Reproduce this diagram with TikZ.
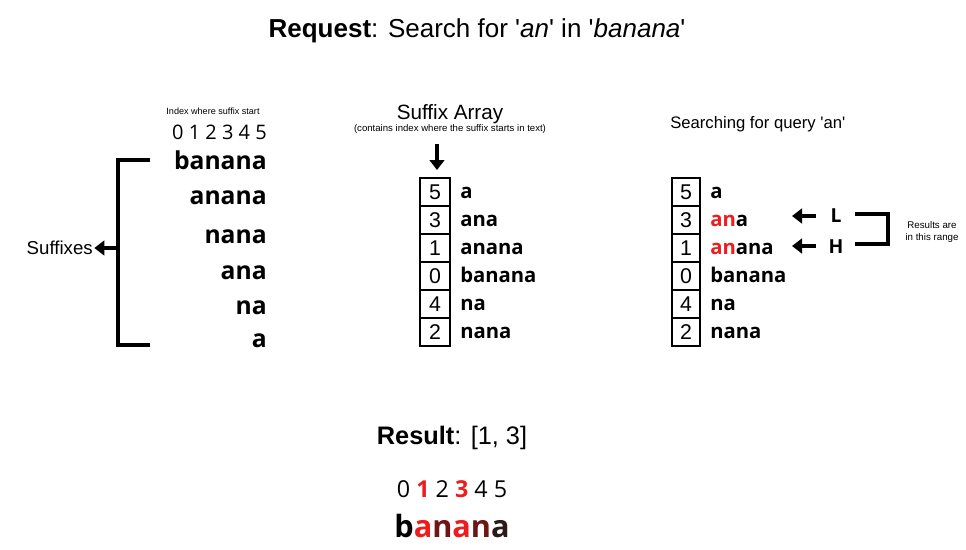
\documentclass[tikz,border=0pt]{standalone}
\usepackage{fontspec}
\setmainfont{Liberation Sans}
\newfontfamily\arial{Liberation Sans}
\newfontfamily\hum{Open Sans}
\usetikzlibrary{arrows.meta}
\definecolor{hl}{HTML}{EE1C1C}
\definecolor{dk}{HTML}{6E1616}
\definecolor{dk2}{HTML}{2A1A1A}
\begin{document}
\begin{tikzpicture}[x=0.75pt,y=-0.75pt,
  cell/.style={draw, line width=1.5pt, minimum width=22.5pt, minimum height=21pt, inner sep=0pt, outer sep=0pt, font=\arial\fontsize{16}{16}\selectfont},
  cellr/.style={cell, minimum width=21pt},
  bigword/.style={anchor=base east, inner sep=0pt, font=\hum\bfseries\fontsize{18.5}{20}\selectfont},
  word/.style={anchor=base west, inner sep=0pt, font=\hum\bfseries\fontsize{15.2}{16}\selectfont},
  fat/.style={line width=3.4pt, -{Triangle[width=11pt,length=7.5pt]}},
  brk/.style={line width=2.4pt},
  tiny/.style={inner sep=0pt, font=\arial\fontsize{6.8}{8}\selectfont, align=center}
]
\useasboundingbox (0,0) rectangle (966,549);
% title
\node (title) at (477,31) {\arial\fontsize{19.5}{22}\selectfont\textbf{Request}: Search for '\textit{an}' in '\textit{banana}'};
% ---------- left ----------
\node[tiny, anchor=base] (idxlab) at (213,115) {Index where suffix start};
\node[anchor=base east, inner sep=0pt, font=\hum\fontsize{15}{16}\selectfont] (idx) at (267,140) {0 1 2 3 4 5};
\node[bigword] (w0) at (267,169) {banana};
\node[bigword] (w1) at (267,204) {anana};
\node[bigword] (w2) at (267,243) {nana};
\node[bigword] (w3) at (267,279) {ana};
\node[bigword] (w4) at (267,314) {na};
\node[bigword] (w5) at (267,347) {a};
\coordinate (bt) at (150,160);
\coordinate (bb) at (150,345);
\coordinate (bm) at (118,248);
\draw[brk] (bt) -- (118,160) -- (118,345) -- (bb);
\node[anchor=east, inner sep=0pt, font=\arial\fontsize{14}{16}\selectfont] (suf) at (93,248) {Suffixes};
\draw[fat] (bm) -- ([xshift=1pt]suf.east);
% ---------- middle ----------
\node[inner sep=0pt, font=\arial\fontsize{15.5}{17}\selectfont] (sa) at (450,114) {Suffix Array};
\node[tiny, font=\arial\fontsize{7.2}{8}\selectfont] (sasub) at (450,129) {(contains index where the suffix starts in text)};
\node[cell] (m0) at (435,192) {5};
\node[cell] (m1) at (435,220) {3};
\node[cell] (m2) at (435,248) {1};
\node[cell] (m3) at (435,276) {0};
\node[cell] (m4) at (435,304) {4};
\node[cell] (m5) at (435,332) {2};
\coordinate (arrtop) at (437,144);
\coordinate (arrtip) at (437,170);
\draw[fat] (arrtop) -- (arrtip);
\node[word] (mw0) at (460,198) {a};
\node[word] (mw1) at (460,226) {ana};
\node[word] (mw2) at (460,254) {anana};
\node[word] (mw3) at (460,282) {banana};
\node[word] (mw4) at (460,310) {na};
\node[word] (mw5) at (460,338) {nana};
% ---------- right ----------
\node[anchor=west, inner sep=0pt, font=\arial\fontsize{12.5}{15}\selectfont] (sq) at (670,124) {Searching for query 'an'};
\node[cellr] (r0) at (686,192) {5};
\node[cellr] (r1) at (686,220) {3};
\node[cellr] (r2) at (686,248) {1};
\node[cellr] (r3) at (686,276) {0};
\node[cellr] (r4) at (686,304) {4};
\node[cellr] (r5) at (686,332) {2};
\node[word] (rw0) at (710,198) {a};
\node[word] (rw1) at (710,226) {\textcolor{hl}{an}a};
\node[word] (rw2) at (710,254) {\textcolor{hl}{an}ana};
\node[word] (rw3) at (710,282) {banana};
\node[word] (rw4) at (710,310) {na};
\node[word] (rw5) at (710,338) {nana};
\node[inner sep=0pt, font=\hum\bfseries\fontsize{14.5}{16}\selectfont] (L) at (836,216) {L};
\node[inner sep=0pt, font=\hum\bfseries\fontsize{14.5}{16}\selectfont] (H) at (836,247) {H};
\coordinate (la) at (816,216);
\coordinate (ha) at (816,246);
\coordinate (lt) at (792,216);
\coordinate (ht) at (792,246);
\draw[fat] (la) -- (lt);
\draw[fat] (ha) -- (ht);
\draw[brk] (855,214) -- (888,214) -- (888,244) -- (855,244);
\node[tiny, font=\arial\fontsize{7.3}{9}\selectfont] (res) at (932,232) {Results are\\in this range};
% ---------- bottom ----------
\node[inner sep=0pt, font=\arial\fontsize{19}{21}\selectfont] (result) at (452,438) {\textbf{Result}: [1, 3]};
\node[inner sep=0pt, anchor=base, font=\hum\fontsize{17.5}{18}\selectfont] (bidx) at (452,497) {0 \textcolor{hl}{\bfseries 1} 2 \textcolor{hl}{\bfseries 3} 4 5};
\node[inner sep=0pt, anchor=base, font=\hum\bfseries\fontsize{23}{25}\selectfont] (bw) at (452,537) {b\textcolor{hl}{a}\textcolor{dk}{n}\textcolor{hl}{a}\textcolor{dk}{n}\textcolor{dk2}{a}};
\end{tikzpicture}
\end{document}
